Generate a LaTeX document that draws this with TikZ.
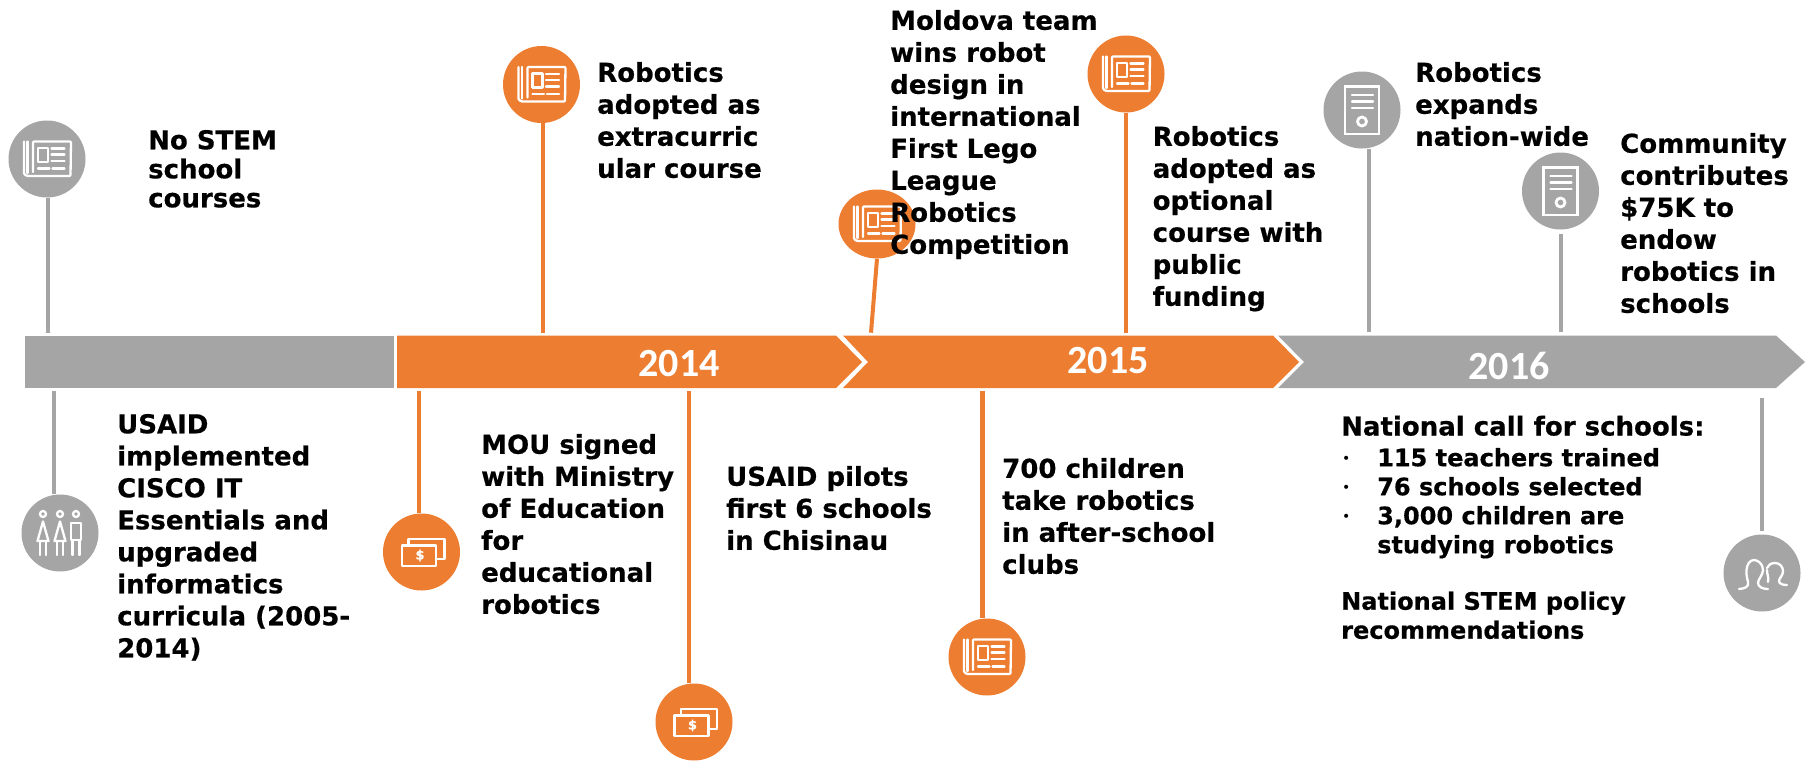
\documentclass[tikz,border=0pt]{standalone}
\usepackage{fontspec}
\setmainfont[BoldFeatures={FakeBold=0.5}]{DejaVu Sans}
\newfontfamily\yearfont{Carlito}
\usetikzlibrary{shapes.geometric}
\definecolor{tgray}{HTML}{A5A5A5}
\definecolor{torange}{HTML}{ED7D31}
\tikzset{
 lab/.style 2 args={font=\bfseries\fontsize{#1}{#2}\selectfont,align=left,anchor=north west,inner sep=0pt,xshift=-1pt,yshift=21.2pt,execute at begin node={\rule{0pt}{22pt}},text=black},
 big/.style={lab={26}{32}},
 mid/.style={lab={24}{29}},
 first/.style={lab={26}{29}},
 bul/.style={lab={24}{29},font=\fontsize{14}{29}\selectfont},
 yearlab/.style={font=\yearfont\bfseries\fontsize{40}{42}\selectfont,text=white,inner sep=0pt},
 dot/.style={circle,minimum size=77pt,inner sep=0pt,fill=#1},
 oval/.style={ellipse,minimum width=77pt,minimum height=69pt,inner sep=0pt,fill=#1},
 conn/.style={line width=4pt,draw=#1},
 ic/.style={draw=white,line width=2.3pt,line join=round,line cap=round},
 newsicon/.pic={
  \draw[ic,rounded corners=1pt] (-23,-17.5) -- (-23,15) -- (-20,17) -- (23.5,17) -- (24,-17.5) -- (-14,-17.5) -- (-14,13) ;
  \draw[ic] (-19.5,-17.5) -- (-19.5,14);
  \draw[ic] (-9,-11) rectangle (1,3);
  \draw[ic] (4.5,-10.5) -- (17.5,-10.5) (4.5,-4.5) -- (17.5,-4.5) (4.5,2) -- (17.5,2)
            (-9,9.5) -- (2.5,9.5) (5.5,9.5) -- (17.5,9.5);
 },
 servericon/.pic={
  \draw[ic,miter limit=2,line join=miter] (-17,-23.5) rectangle (17,24);
  \draw[ic] (-10,-15) -- (11,-15) (-10,-8.5) -- (11,-8.5) (-10,-2) -- (11,-2);
  \draw[ic,line width=2.8pt] (0,11.5) circle (4.5);
 },
 moneyicon/.pic={
  \draw[ic] (-19.5,-6.5) rectangle (14.5,14);
  \draw[ic] (-13,-6.5) -- (-13,-13) -- (23,-13) -- (23,7) -- (14.5,7);
  \node[text=white,font=\bfseries\fontsize{13}{13}\selectfont,inner sep=0pt] at (-1.5,3.5) {\$};
 },
 peopleicon/.pic={
  \draw[ic] (-17,-19) circle (3) (0,-19) circle (3) (16,-19) circle (3);
  \draw[ic] (-17,-11.5) -- (-22.5,8) -- (-11.5,8) -- cycle;
  \draw[ic] (0,-11.5) -- (-5.5,8) -- (5.5,8) -- cycle;
  \draw[ic] (-20,8) -- (-20,22) (-14,8) -- (-14,22) (-3,8) -- (-3,22) (3,8) -- (3,22);
  \draw[ic] (11,-10) rectangle (21,7);
  \draw[ic] (12.5,7) -- (12.5,22) (19.5,7) -- (19.5,22);
 },
 groupicon/.pic={
  \draw[ic] (-23,16) .. controls (-17,15.5) and (-13,14) .. (-14,9) .. controls (-15,5) and (-16,1) .. (-15.5,-3) .. controls (-15,-9) and (-12,-13) .. (-8,-13) .. controls (-4,-13) and (1,-9) .. (1,-3) .. controls (1,2) and (-4,6) .. (-4,10) .. controls (-4,14) and (1,16) .. (6,16);
  \draw[ic] (5,-3) .. controls (5,2) and (7,4) .. (6,9);
  \draw[ic] (5,-5) .. controls (6,-8) and (9,-10) .. (13,-10) .. controls (18,-10) and (21,-6) .. (21,-2) .. controls (21,3) and (17,5) .. (17,8) .. controls (17,11) and (21,12) .. (25,12);
 },
}
\begin{document}
\begin{tikzpicture}[x=1pt,y=-1pt]
\useasboundingbox (0,0) rectangle (1814,760);
% timeline bar
\fill[tgray] (25,335.5) rectangle (394,388);
\fill[torange] (397,335.5) -- (836,335.5) -- (862,362) -- (836,388) -- (397,388) -- cycle;
\fill[torange] (843,335.5) -- (1273,335.5) -- (1299,362) -- (1273,388) -- (843,388) -- (868,362) -- cycle;
\fill[tgray] (1278,335.5) -- (1776,335.5) -- (1805,362) -- (1776,388) -- (1278,388) -- (1304,362) -- cycle;
\node[yearlab] (y14) at (679,364) {2014};
\node[yearlab] (y15) at (1108,361) {2015};
\node[yearlab] (y16) at (1509,366) {2016};
% circles
\node[dot=tgray] (c1) at (47,159) {};
\node[dot=tgray] (c2) at (60,533) {};
\node[dot=torange] (c3) at (421.5,552) {};
\node[dot=torange] (c4) at (541.5,84.5) {};
\node[dot=torange] (c5) at (694,722) {};
\node[oval=torange] (c6) at (877,224) {};
\node[dot=torange] (c7) at (1126,74) {};
\node[dot=torange] (c8) at (987,657) {};
\node[dot=tgray] (c9) at (1362,110) {};
\node[dot=tgray] (c10) at (1560.5,191) {};
\node[dot=tgray] (c11) at (1762,573) {};
% connector ends
\coordinate (e1) at (47.7,333);
\coordinate (e2) at (53.5,391);
\coordinate (e3) at (419,391);
\coordinate (e4) at (542.6,333);
\coordinate (e5) at (689,391);
\coordinate (e6) at (871,332.7);
\coordinate (e7) at (1126,333);
\coordinate (e8) at (982,391);
\coordinate (e9) at (1369,332);
\coordinate (e10) at (1561,332);
\coordinate (e11) at (1762,398);
\draw[conn=tgray] (e1 |- c1.south) -- (e1);
\draw[conn=tgray] (e2 |- c2.north) -- (e2);
\draw[conn=torange] (e3 |- c3.north) -- (e3);
\draw[conn=torange] (e4 |- c4.south) -- (e4);
\draw[conn=torange] (e5 |- c5.north) -- (e5);
\draw[conn=torange] (c6.south) -- (e6);
\draw[conn=torange] (e7 |- c7.south) -- (e7);
\draw[conn=torange,line width=5pt] (e8 |- c8.north) -- (e8);
\draw[conn=tgray] (e9 |- c9.south) -- (e9);
\draw[conn=tgray,shorten <=4pt] (e10 |- c10.south) -- (e10);
\draw[conn=tgray,shorten <=3pt] (e11 |- c11.north) -- (e11);
% icons
\pic at (c1) {newsicon};
\pic at (c2) {peopleicon};
\pic at (c3) {moneyicon};
\pic at (c4) {newsicon};
\pic at (c5) {moneyicon};
\pic at (c6) {newsicon};
\pic at (c7) {newsicon};
\pic at (c8) {newsicon};
\pic at (c9) {servericon};
\pic at (c10) {servericon};
\pic at (c11) {groupicon};
% labels
\node[first] (t1) at (149,151) {No STEM\\school\\courses};
\node[big] (t2) at (118,435) {USAID\\implemented\\CISCO IT\\Essentials and\\upgraded\\informatics\\curricula (2005-\\2014)};
\node[big] (t3) at (598,83) {Robotics\\adopted as\\extracurric\\ular course};
\node[big] (t4) at (482,455) {MOU signed\\with Ministry\\of Education\\for\\educational\\robotics};
\node[big] (t5) at (727,487) {USAID pilots\\first 6 schools\\in Chisinau};
\node[big] (t6) at (891,31) {Moldova team\\wins robot\\design in\\international\\First Lego\\League\\Robotics\\Competition};
\node[big] (t7) at (1153.5,147) {Robotics\\adopted as\\optional\\course with\\public\\funding};
\node[big] (t8) at (1003,479) {700 children\\take robotics\\in after-school\\clubs};
\node[big] (t9) at (1416,83) {Robotics\\expands\\nation-wide};
\node[big] (t10) at (1621,154) {Community\\contributes\\\$75K to\\endow\\robotics in\\schools};
\node[first] (t11) at (1342,434.5) {National call for schools:};
\node[mid] (t12) at (1378,469) {115 teachers trained\\76 schools selected\\3,000 children are\\studying robotics};
\node[bul] (t13) at (1343,477.5) {•\\•\\•};
\node[mid] (t14) at (1342,612.5) {National STEM policy\\recommendations};
\end{tikzpicture}
\end{document}
